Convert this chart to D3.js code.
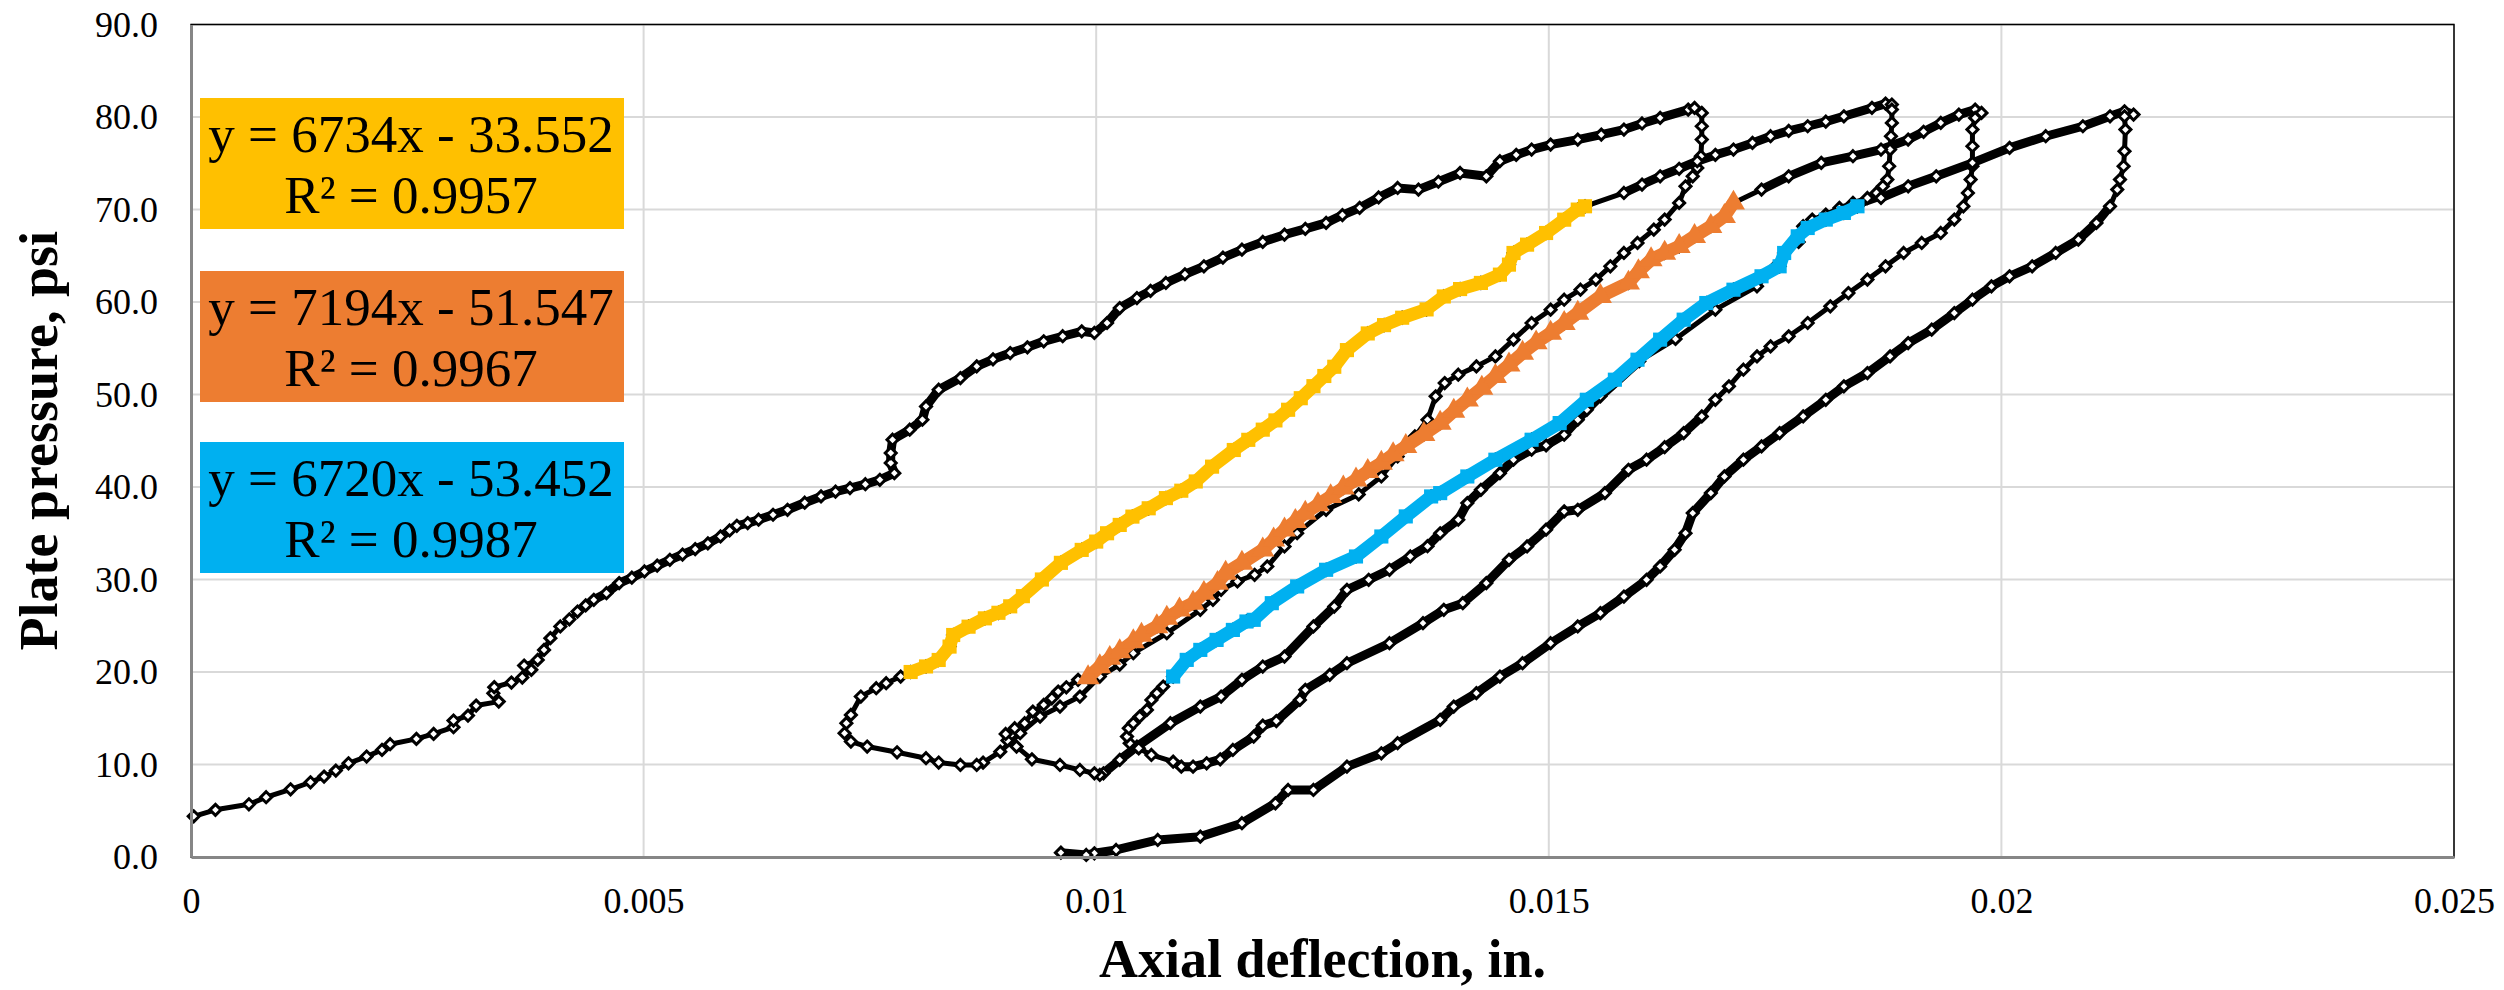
<!DOCTYPE html>
<html>
<head>
<meta charset="utf-8">
<script src="https://cdn.jsdelivr.net/npm/d3@7/dist/d3.min.js"></script>
<style>
  body { margin: 0; background: #fff; }
  svg text { font-family: "Liberation Serif", "Times New Roman", serif !important; }
</style>
</head>
<body>
<script>
// ---- plate load test readings [deflection in., pressure psi] ----
const loading1 = [[0.00003,4.4],[0.00027,5.1],[0.00064,5.7],[0.00083,6.46],[0.0011,7.32],[0.00132,8.08],[0.00147,8.69],[0.0016,9.34],[0.00174,10.13],[0.00194,10.86],[0.00211,11.58],[0.0022,12.19],[0.00249,12.77],[0.00268,13.31],[0.0029,14.03],[0.0029,14.75],[0.00306,15.29],[0.00315,16.37],[0.0034,16.8],[0.00334,17.7],[0.00335,18.36],[0.00354,18.86],[0.00366,19.4],[0.00376,20.23],[0.00368,20.7],[0.00383,21.31],[0.0039,22.39],[0.00397,23.66],[0.00408,24.92],[0.00418,25.7],[0.00427,26.54],[0.00436,27.2],[0.00445,27.8],[0.00459,28.52],[0.00473,29.61],[0.00487,30.2],[0.00501,30.87],[0.00515,31.5],[0.00529,32.13],[0.00543,32.7],[0.00557,33.28],[0.00571,33.9],[0.00585,34.65],[0.00595,35.3],[0.00603,35.81],[0.00615,36.1],[0.00627,36.46],[0.00643,37.0],[0.00659,37.54],[0.00678,38.3],[0.00696,38.98],[0.00712,39.5],[0.00728,39.88],[0.00745,40.3],[0.00761,40.78],[0.00777,41.5],[0.00773,42.6],[0.00773,43.67],[0.00775,45.11],[0.00794,46.19],[0.00808,47.27],[0.00812,48.71],[0.00826,50.52],[0.0085,51.78],[0.00868,53.04],[0.00886,53.8],[0.00905,54.48],[0.00924,55.1],[0.00942,55.75],[0.00963,56.3],[0.00984,56.83],[0.00998,56.65],[0.01012,57.73],[0.01026,59.35],[0.01045,60.43],[0.0106,61.2],[0.01077,62.06],[0.01098,63.0],[0.01119,63.86],[0.0114,64.8],[0.01161,65.66],[0.01184,66.5],[0.01208,67.28],[0.01231,67.9],[0.01254,68.55],[0.01272,69.4],[0.01291,70.17],[0.01312,71.3],[0.01333,72.33],[0.01356,72.15],[0.01378,73.0],[0.01402,73.95],[0.01431,73.59],[0.01446,75.22],[0.01464,75.9],[0.01481,76.48],[0.01502,77.02],[0.01532,77.56],[0.01558,78.1],[0.01583,78.64],[0.01603,79.3],[0.01623,79.9],[0.01654,80.8],[0.01661,80.98]];
const unloading1 = [[0.01669,80.44],[0.01669,79.0],[0.01669,77.56],[0.01668,75.76],[0.01664,74.5],[0.01659,73.59],[0.01651,72.51],[0.01644,70.71],[0.01628,68.91],[0.01616,67.82],[0.01598,66.38],[0.01583,65.3],[0.01568,63.86],[0.01552,62.42],[0.01535,61.33],[0.01517,60.25],[0.01502,59.17],[0.01481,57.73],[0.01461,55.93],[0.01441,54.12],[0.0142,53.04],[0.014,52.14],[0.01385,51.24],[0.01375,49.8],[0.01366,47.27],[0.01352,45.47],[0.01333,43.3],[0.01315,41.14],[0.0129,39.2],[0.01254,37.54],[0.01222,35.01],[0.01208,33.57],[0.01189,31.41],[0.01175,30.51],[0.01156,29.79],[0.01138,28.88],[0.01129,27.8],[0.01115,26.72],[0.01078,24.19],[0.01041,22.03],[0.01026,20.8],[0.01004,19.51],[0.00982,17.34],[0.0096,16.26],[0.00938,15.18],[0.00916,13.38],[0.00894,11.39],[0.00875,10.2],[0.00868,9.95]];
const reload2Start = [[0.0085,9.95],[0.00826,10.21],[0.00812,10.68],[0.0078,11.32],[0.00747,11.94],[0.00729,12.48],[0.00722,13.38],[0.00724,14.46],[0.00729,15.36],[0.0074,17.35],[0.00757,18.25],[0.00768,18.79],[0.00784,19.51]];
const yellowFit = [[0.00795,20.0],[0.00812,20.6],[0.00826,21.3],[0.00838,22.75],[0.00842,24.0],[0.00859,24.9],[0.00877,25.8],[0.00892,26.4],[0.00905,27.1],[0.00919,28.2],[0.0094,30.0],[0.00961,31.8],[0.00984,33.2],[0.01,34.1],[0.01012,35.0],[0.01026,35.9],[0.0104,36.8],[0.01058,37.7],[0.01077,38.8],[0.01094,39.6],[0.0111,40.6],[0.01128,42.2],[0.01152,44.0],[0.01168,45.1],[0.01184,46.2],[0.01198,47.2],[0.01212,48.35],[0.01226,49.6],[0.0124,50.9],[0.01252,52.0],[0.01263,53.0],[0.01277,54.8],[0.013,56.6],[0.01318,57.5],[0.01338,58.3],[0.01365,59.2],[0.01384,60.6],[0.01402,61.4],[0.01425,62.06],[0.01446,62.96],[0.01456,64.04],[0.01461,65.3],[0.01476,66.2],[0.01497,67.46],[0.01517,68.9],[0.01532,69.99],[0.0154,70.35]];
const reload2End = [[0.01583,71.79],[0.01603,72.7],[0.01623,73.59],[0.01644,74.4],[0.01664,75.22],[0.01684,75.9],[0.01704,76.48],[0.01725,77.2],[0.01745,77.92],[0.01765,78.5],[0.01786,79.0],[0.01806,79.5],[0.01826,80.08],[0.01857,80.99],[0.01872,81.45],[0.01879,81.35]];
const unloading2 = [[0.01879,80.8],[0.01879,79.36],[0.01878,77.92],[0.01877,76.48],[0.01876,74.68],[0.01874,73.23],[0.01869,72.51],[0.01862,71.79],[0.01852,71.25],[0.01836,70.71],[0.01821,70.17],[0.01806,69.45],[0.01791,68.91],[0.01781,68.19],[0.01776,66.5],[0.01752,64.0],[0.0173,61.69],[0.01684,59.17],[0.0164,56.0],[0.016,53.6],[0.01557,49.8],[0.01542,48.35],[0.01532,47.27],[0.01517,45.65],[0.01497,44.5],[0.01481,44.03],[0.01461,42.95],[0.01446,41.5],[0.01425,39.7],[0.0141,38.26],[0.014,36.46],[0.0138,35.0],[0.01366,33.6],[0.01347,32.49],[0.01324,31.05],[0.01301,29.97],[0.01277,28.88],[0.01263,27.08],[0.0124,24.92],[0.01208,21.67],[0.01184,20.59],[0.01161,19.15],[0.01138,17.35],[0.01115,16.26],[0.01082,14.46],[0.01045,11.94],[0.01026,10.5],[0.01008,9.05]];
const reload3Start = [[0.01004,8.87],[0.00998,9.05],[0.00982,9.41],[0.0096,9.95],[0.00929,10.56],[0.00912,11.94],[0.00902,12.6],[0.009,13.3],[0.0091,13.92],[0.00921,14.46],[0.0093,15.72],[0.00942,16.44],[0.00951,17.16],[0.00958,17.88],[0.00967,18.35],[0.0098,19.15]];
const orangeFit = [[0.00991,19.4],[0.01004,20.59],[0.01015,21.49],[0.01026,22.2],[0.01041,23.29],[0.0105,24.0],[0.01067,24.92],[0.01078,25.82],[0.01092,26.72],[0.01107,27.44],[0.01119,28.52],[0.01134,29.6],[0.01143,30.69],[0.01161,31.77],[0.01184,33.21],[0.01196,34.3],[0.01208,35.38],[0.0122,36.3],[0.01231,37.18],[0.01245,38.1],[0.01259,38.98],[0.01273,39.9],[0.01287,40.78],[0.013,41.7],[0.01315,42.59],[0.01328,43.5],[0.01342,44.39],[0.01362,45.7],[0.0138,46.91],[0.01395,48.2],[0.0141,49.43],[0.01426,50.7],[0.01441,51.96],[0.01456,53.2],[0.01471,54.48],[0.01486,55.6],[0.01502,56.65],[0.01517,57.7],[0.01532,58.81],[0.01557,60.61],[0.01588,62.06],[0.01599,63.3],[0.01613,64.58],[0.01628,65.3],[0.01644,66.02],[0.01661,67.1],[0.01679,68.19],[0.01694,69.27],[0.01704,70.71]];
const reload3End = [[0.01735,72.15],[0.01765,73.59],[0.01801,75.04],[0.01836,75.76],[0.01867,76.48],[0.01897,77.56],[0.01914,78.4],[0.01933,79.36],[0.01953,80.26],[0.01971,80.8],[0.01978,80.44]];
const unloading3 = [[0.01971,79.9],[0.01968,78.64],[0.01968,76.84],[0.01968,74.68],[0.01966,73.23],[0.01963,71.79],[0.01958,70.35],[0.01948,68.91],[0.01933,67.46],[0.01912,66.38],[0.01892,65.3],[0.01872,63.86],[0.01852,62.42],[0.01831,60.97],[0.01811,59.53],[0.01786,57.73],[0.01765,56.29],[0.01745,55.2],[0.0173,54.12],[0.01715,52.68],[0.01699,50.88],[0.01684,49.43],[0.01669,47.63],[0.01649,45.83],[0.01628,44.3],[0.01608,42.95],[0.01588,41.86],[0.01562,39.34],[0.01532,37.54],[0.01517,37.36],[0.01497,35.38],[0.01476,33.57],[0.01456,32.13],[0.01431,29.61],[0.01405,27.44],[0.01384,26.72],[0.01361,25.28],[0.01324,23.11],[0.01277,20.95],[0.01258,19.69],[0.01231,18.07],[0.01225,16.98],[0.01199,14.7],[0.01184,14.2],[0.01174,13.02],[0.01151,11.57],[0.01137,10.56],[0.01122,10.13],[0.01107,9.77],[0.01094,9.77],[0.01085,10.31]];
const reload4Start = [[0.01061,11.03],[0.01047,11.75],[0.01037,12.3],[0.01034,13.02],[0.01036,13.92],[0.01041,14.46],[0.01048,15.18],[0.01056,15.9],[0.01061,16.98],[0.01067,17.7],[0.01074,18.43]];
const blueFit = [[0.01085,19.51],[0.011,21.31],[0.01115,22.39],[0.01133,23.47],[0.01151,24.55],[0.01166,25.46],[0.01174,25.64],[0.01194,27.44],[0.01222,29.25],[0.01254,31.05],[0.01287,32.49],[0.01315,34.65],[0.01342,36.82],[0.0137,38.98],[0.0138,39.34],[0.0141,41.14],[0.01441,42.95],[0.01481,45.11],[0.01512,46.91],[0.01542,49.43],[0.01573,51.6],[0.01598,53.76],[0.01623,55.93],[0.01649,58.09],[0.01674,59.89],[0.01704,61.33],[0.01735,62.78],[0.01755,63.86],[0.0176,65.3],[0.01775,67.1],[0.01786,68.0],[0.01806,68.91],[0.01826,69.63],[0.01841,70.35]];
const reload4End = [[0.01867,71.25],[0.01897,72.51],[0.01928,73.59],[0.01968,75.04],[0.02009,76.66],[0.02049,77.92],[0.0209,79.0],[0.0212,80.08],[0.02136,80.62],[0.02146,80.26]];
const unloading4 = [[0.02136,80.08],[0.02137,78.64],[0.02136,76.3],[0.02135,74.68],[0.02131,73.23],[0.02128,72.15],[0.0212,70.35],[0.02105,68.55],[0.02085,66.74],[0.0206,65.3],[0.02034,63.86],[0.02009,62.78],[0.01989,61.69],[0.01968,60.25],[0.01948,58.81],[0.01923,57.01],[0.01897,55.56],[0.01877,54.12],[0.01852,52.32],[0.01826,50.88],[0.01806,49.43],[0.01781,47.63],[0.01755,45.83],[0.01735,44.39],[0.01715,42.95],[0.01694,41.14],[0.01679,39.34],[0.01659,37.18],[0.01651,35.01],[0.01639,33.21],[0.01623,31.41],[0.01608,29.97],[0.01583,28.16],[0.01557,26.36],[0.01532,24.92],[0.01502,23.11],[0.01471,20.95],[0.01446,19.51],[0.0142,17.71],[0.01395,16.26],[0.0138,14.82],[0.01333,12.3],[0.01315,11.21],[0.01277,9.77],[0.0124,7.25],[0.01212,7.25],[0.01198,5.81],[0.01161,3.65],[0.01115,2.2],[0.01068,1.84],[0.01022,0.76],[0.00998,0.4],[0.00989,0.22],[0.00961,0.47]];

// trendline labels
const fitEquations = ["y = 6734x - 33.552", "y = 7194x - 51.547", "y = 6720x - 53.452"];
const fitR2 = ["R\u00B2 = 0.9957", "R\u00B2 = 0.9967", "R\u00B2 = 0.9987"];
const fitColors = ["#FFC000", "#ED7D31", "#00B0F0"];

const xTicks = [0, 0.005, 0.01, 0.015, 0.02, 0.025];
const yTicks = [0, 10, 20, 30, 40, 50, 60, 70, 80, 90];

const W = 2504, H = 990;
const FONT = "'Liberation Serif', 'Times New Roman', serif";
const svg = d3.select("body").append("svg")
    .attr("width", W)
    .attr("height", H)
    .style("background", "#fff");

const x = d3.scaleLinear().domain([0, 0.025]).range([191, 2454]);
const y = d3.scaleLinear().domain([0, 90]).range([857, 24.5]);

// gridlines
svg.append("g").selectAll("line")
    .data(yTicks.slice(1))
    .join("line")
    .attr("x1", x(0)).attr("x2", x(0.025))
    .attr("y1", d => y(d)).attr("y2", d => y(d))
    .attr("stroke", "#d9d9d9").attr("stroke-width", 2);
svg.append("g").selectAll("line")
    .data(xTicks.slice(1))
    .join("line")
    .attr("x1", d => x(d)).attr("x2", d => x(d))
    .attr("y1", y(0)).attr("y2", y(90))
    .attr("stroke", "#d9d9d9").attr("stroke-width", 2);

// plot border
svg.append("rect")
    .attr("x", x(0)).attr("y", y(90))
    .attr("width", x(0.025) - x(0)).attr("height", y(0) - y(90))
    .attr("fill", "none").attr("stroke", "#000").attr("stroke-width", 1.5);

const line = d3.line().x(d => x(d[0])).y(d => y(d[1]));

// full test record (black), the fitted portions sit inside it
const testRecord = [].concat(loading1, unloading1, reload2Start, yellowFit, reload2End,
    unloading2, reload3Start, orangeFit, reload3End, unloading3,
    reload4Start, blueFit, reload4End, unloading4);

svg.append("path")
    .datum(testRecord)
    .attr("d", line)
    .attr("fill", "none")
    .attr("stroke", "#000")
    .attr("stroke-width", 5)
    .attr("stroke-linejoin", "round");

// where readings were logged closely the markers merge into a heavy band
const denseRuns = [loading1.slice(32), reload2End, reload3End, reload4End,
    unloading2.slice(19), unloading3.slice(22), unloading4.slice(6)];
svg.append("g").selectAll("path")
    .data(denseRuns)
    .join("path")
    .attr("d", line)
    .attr("fill", "none")
    .attr("stroke", "#000")
    .attr("stroke-width", 9)
    .attr("stroke-linejoin", "round")
    .attr("stroke-linecap", "round");

const diamond = "M0,-5.5L5.5,0L0,5.5L-5.5,0Z";
svg.append("g").selectAll("path")
    .data(testRecord)
    .join("path")
    .attr("d", diamond)
    .attr("transform", d => `translate(${x(d[0])},${y(d[1])})`)
    .attr("fill", "#fff")
    .attr("stroke", "#000")
    .attr("stroke-width", 3);

// regression segments
const fitSeries = [
    {pts: yellowFit, color: fitColors[0], shape: d3.symbolSquare, size: 200},
    {pts: orangeFit, color: fitColors[1], shape: d3.symbolTriangle, size: 230},
    {pts: blueFit, color: fitColors[2], shape: d3.symbolSquare, size: 200}
];
fitSeries.forEach(s => {
    svg.append("path")
        .datum(s.pts)
        .attr("d", line)
        .attr("fill", "none")
        .attr("stroke", s.color)
        .attr("stroke-width", 13)
        .attr("stroke-linejoin", "round");
    svg.append("g").selectAll("path")
        .data(s.pts)
        .join("path")
        .attr("d", d3.symbol().type(s.shape).size(s.size))
        .attr("transform", d => `translate(${x(d[0])},${y(d[1])})`)
        .attr("fill", s.color);
});

// axes
const xAxis = svg.append("g")
    .attr("transform", `translate(0,${y(0)})`)
    .call(d3.axisBottom(x).tickValues(xTicks).tickSize(0).tickPadding(30)
        .tickFormat(d => String(+d.toFixed(3))));
const yAxis = svg.append("g")
    .attr("transform", `translate(${x(0)},0)`)
    .call(d3.axisLeft(y).tickValues(yTicks).tickSize(0).tickPadding(33)
        .tickFormat(d3.format(".1f")));
[xAxis, yAxis].forEach(a => {
    a.attr("font-family", FONT).attr("font-size", 36);
    a.select(".domain").attr("stroke", "#868686").attr("stroke-width", 3);
    a.selectAll("text").style("font-family", FONT).attr("fill", "#000");
});

// axis titles
svg.append("text")
    .attr("x", (x(0) + x(0.025)) / 2)
    .attr("y", 977)
    .attr("text-anchor", "middle")
    .style("font-family", FONT)
    .attr("font-size", 54)
    .attr("font-weight", "bold")
    .text("Axial deflection, in.");
svg.append("text")
    .attr("transform", `translate(57,${(y(0) + y(90)) / 2}) rotate(-90)`)
    .attr("text-anchor", "middle")
    .style("font-family", FONT)
    .attr("font-size", 54)
    .attr("font-weight", "bold")
    .text("Plate pressure, psi");

// trendline labels
const boxTops = [98, 271, 442];
fitEquations.forEach((eq, i) => {
    const top = boxTops[i];
    const g = svg.append("g").style("font-family", FONT).attr("font-size", 53);
    g.append("rect")
        .attr("x", 200).attr("y", top)
        .attr("width", 424).attr("height", 131)
        .attr("fill", fitColors[i]);
    g.append("text")
        .attr("x", 411).attr("y", top + 54)
        .attr("text-anchor", "middle")
        .text(eq);
    g.append("text")
        .attr("x", 411).attr("y", top + 115)
        .attr("text-anchor", "middle")
        .text(fitR2[i]);
});
</script>
</body>
</html>
